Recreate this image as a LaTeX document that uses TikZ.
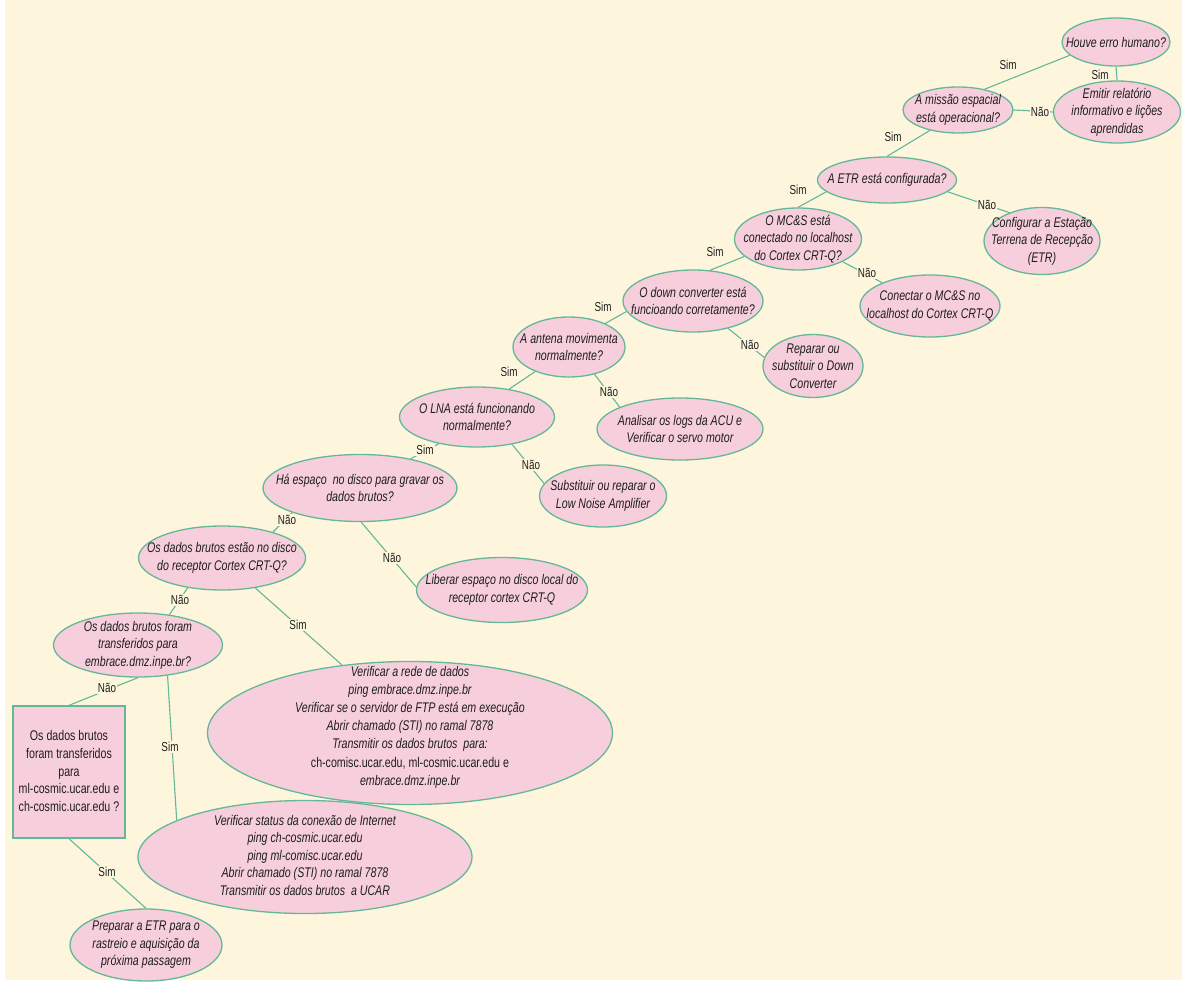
\documentclass[tikz,border=0pt]{standalone}
\usepackage{fontspec}
\setmainfont{Liberation Sans}[FakeStretch=0.76]
\usetikzlibrary{shapes.geometric}
\definecolor{bgc}{RGB}{253,246,221}
\definecolor{pinkc}{RGB}{247,207,220}
\definecolor{tealc}{RGB}{98,184,152}
\definecolor{txtc}{RGB}{30,30,30}
\tikzset{
 ell/.style={ellipse, draw=tealc, fill=pinkc, line width=1.3pt, inner sep=0pt},
 rbox/.style={rectangle, draw=tealc, fill=pinkc, line width=1.3pt, inner sep=0pt},
 txt/.style={align=center, inner sep=0pt, text=txtc, font=\itshape\fontsize{14}{17.5}\selectfont},
 utxt/.style={align=center, inner sep=0pt, text=txtc, font=\upshape\fontsize{14}{17.8}\selectfont},
 edge/.style={draw=tealc, line width=1.1pt},
 lbl/.style={inner sep=1pt, text=txtc, font=\fontsize{13}{15}\selectfont},
 lblf/.style={lbl, fill=bgc},
}
\newcommand\Ell[6]{\node[ell, minimum width=#4pt, minimum height=#5pt] (#1) at (#2,#3) {};
 \node[txt] (#1-t) at (#1.center) {#6};}
\begin{document}
\begin{tikzpicture}[x=1pt,y=-1pt]
\useasboundingbox (0,0) rectangle (1182,987);
\fill[white] (0,0) rectangle (1182,987);
\fill[bgc] (5,0) rectangle (1182,980);

\Ell{houve}{1116}{42}{108}{48}{Houve erro humano?}
\Ell{missao}{958}{110}{110}{46}{A missão espacial\\está operacional?}
\Ell{emitir}{1117}{112}{127}{62}{Emitir relatório\\informativo e lições\\aprendidas}
\Ell{etr}{887}{180}{139}{46}{A ETR está configurada?}
\Ell{config}{1042}{241}{116}{67}{Configurar a Estação\\Terrena de Recepção\\(ETR)}
\Ell{mcs}{798}{239}{127}{62}{O MC\&S está\\conectado no localhost\\do Cortex CRT-Q?}
\Ell{conectar}{930}{306}{140}{62}{Conectar o MC\&S no\\localhost do Cortex CRT-Q}
\Ell{down}{693}{301}{140}{62}{O down converter está\\funcioando corretamente?}
\Ell{reparar}{813}{366}{100}{63}{Reparar ou\\substituir o Down\\Converter}
\Ell{antena}{569}{347}{112}{60}{A antena movimenta\\normalmente?}
\Ell{analisar}{680}{429}{166}{62}{Analisar os logs da ACU e\\Verificar o servo motor}
\Ell{lna}{477}{417}{155}{60}{O LNA está funcionando\\normalmente?}
\Ell{subst}{603}{496}{127}{62}{Substituir ou reparar o\\Low Noise Amplifier}
\Ell{ha}{360}{488}{194}{67}{Há espaço\ \ no disco para gravar os\\dados brutos?}
\Ell{estao}{222}{558}{167}{64}{Os dados brutos estão no disco\\do receptor Cortex CRT-Q?}
\Ell{liberar}{502}{590}{171}{65}{Liberar espaço no disco local do\\receptor cortex CRT-Q}
\Ell{foram}{138}{645}{169}{64}{Os dados brutos foram\\transferidos para\\embrace.dmz.inpe.br?}
\Ell{preparar}{146}{945}{152}{72}{Preparar a ETR para o\\rastreio e aquisição da\\próxima passagem}

\node[ell, minimum width=405pt, minimum height=143pt] (rede) at (410,733) {};
\node[txt, font=\itshape\fontsize{14}{18.2}\selectfont] (rede-t) at (410,727) {Verificar a rede de dados\\ping embrace.dmz.inpe.br\\Verificar se o servidor de FTP está em execução\\Abrir chamado (STI) no ramal 7878\\Transmitir os dados brutos\ \ para:\\\upshape ch-comisc.ucar.edu, ml-cosmic.ucar.edu e\\embrace.dmz.inpe.br};

\node[ell, minimum width=334pt, minimum height=113pt] (status) at (305,857) {};
\node[txt] (status-t) at (305,855) {Verificar status da conexão de Internet\\ping ch-cosmic.ucar.edu\\ping ml-comisc.ucar.edu\\Abrir chamado (STI) no ramal 7878\\Transmitir os dados brutos\ \ a UCAR};

\node[rbox, minimum width=112pt, minimum height=132pt] (rect) at (69,772) {};
\node[utxt] (rect-t) at (69,771) {Os dados brutos\\foram transferidos\\para\\ml-cosmic.ucar.edu e\\ch-cosmic.ucar.edu ?};

% edges
\draw[edge] (missao.38) -- (houve.196);
\draw[edge] (houve.south) -- (emitir.north);
\draw[edge] (missao.east) -- (emitir.west);
\draw[edge] (etr.90) -- (missao.216);
\draw[edge] (etr.-11) -- (config.139);
\draw[edge] (mcs.90) -- (etr.191);
\draw[edge] (mcs.-27) -- (conectar.154);
\draw[edge] (down.61) -- (mcs.198);
\draw[edge] (antena.33) -- (down.189);
\draw[edge] (down.-38) -- (reparar.170);
\draw[edge] (lna.41) -- (antena.216);
\draw[edge] (antena.-47) -- (analisar.160);
\draw[edge] (ha.30) -- (lna.215);
\draw[edge] (lna.-38) -- (subst.168);
\draw[edge] (estao.27) -- (ha.200);
\draw[edge] (ha.-88) -- (liberar.178);
\draw[edge] (estao.221) -- (foram.44);
\draw[edge] (estao.-42) -- (rede.135);
\draw[edge] (foram.south) -- (rect.north);
\draw[edge] (foram.-46) -- (status.164);
\draw[edge] (rect.south) -- (preparar.north);

% labels
\node[lbl] (l1) at (1008,65) {Sim};
\node[lbl] (l2) at (1100,75) {Sim};
\node[lblf] (l3) at (1040,112) {Não};
\node[lbl] (l4) at (893,137) {Sim};
\node[lblf] (l5) at (987,205) {Não};
\node[lbl] (l6) at (798,190) {Sim};
\node[lblf] (l7) at (867,273) {Não};
\node[lbl] (l8) at (715,252) {Sim};
\node[lbl] (l9) at (603,307) {Sim};
\node[lblf] (l10) at (750,345) {Não};
\node[lbl] (l11) at (509,372) {Sim};
\node[lblf] (l12) at (609,392) {Não};
\node[lblf] (l13) at (425,450) {Sim};
\node[lblf] (l14) at (531,465) {Não};
\node[lblf] (l15) at (287,520) {Não};
\node[lblf] (l16) at (392,558) {Não};
\node[lblf] (l17) at (180,600) {Não};
\node[lblf] (l18) at (298,625) {Sim};
\node[lblf] (l19) at (107,688) {Não};
\node[lblf] (l20) at (170,747) {Sim};
\node[lblf] (l21) at (107,872) {Sim};
\end{tikzpicture}
\end{document}
